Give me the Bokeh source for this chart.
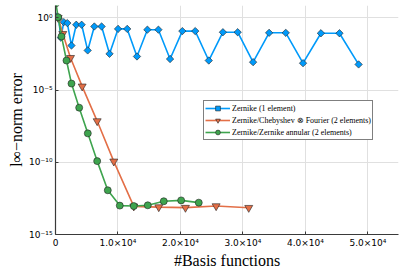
import numpy as np
from bokeh.plotting import figure
from bokeh.models import Range1d, FixedTicker, Legend, LegendItem
from bokeh.embed import file_html
from bokeh.resources import INLINE

# Zernike (1 element)
z1_n = [231, 496, 861, 1326, 1891, 2556, 3321, 4186, 5151, 6216, 7381, 8646, 10011, 11476,
        13041, 14706, 16471, 18336, 20301, 22366, 24531, 26796, 29161, 31626, 34191, 36856,
        39621, 42486, 45451, 48516]
z1_err = [1.26, 0.89, 0.042, 0.50, 0.43, 0.012, 0.33, 0.33, 0.0055, 0.25, 0.25, 0.0032,
          0.17, 0.17, 0.0021, 0.15, 0.15, 0.0014, 0.12, 0.12, 0.0011, 0.10, 0.10, 0.00085,
          0.091, 0.091, 0.00072, 0.085, 0.085, 0.00059]

# Zernike/Chebyshev (x) Fourier (2 elements)
zc_n = [430, 1170, 2400, 4270, 6670, 9330, 12530, 16530, 20800, 25710, 30930]
zc_err = [1.0, 0.078, 1.7e-3, 1.8e-5, 7.1e-8, 1.15e-10, 8.9e-14, 7.9e-14, 7.2e-14, 9.3e-14, 7.1e-14]

# Zernike/Zernike annular (2 elements)
za_n = [60, 430, 960, 1760, 2560, 3790, 5170, 6670, 8370, 10290, 12530, 14770, 17330, 20110, 22930]
za_err = [10.0, 1.1, 0.051, 1.1e-3, 2.8e-5, 6.0e-7, 1.0e-8, 1.2e-10, 1.15e-12, 1.0e-13, 9.3e-14,
          1.05e-13, 2.0e-13, 2.3e-13, 1.6e-13]

series_labels = ["Zernike (1 element)",
                 "Zernike/Chebyshev ⊗ Fourier (2 elements)",
                 "Zernike/Zernike annular (2 elements)"]

x_ticks = [0, 10000, 20000, 30000, 40000, 50000]
x_tick_labels = ["0", "1.0×10⁴", "2.0×10⁴", "3.0×10⁴", "4.0×10⁴", "5.0×10⁴"]
y_ticks = [1e0, 1e-5, 1e-10, 1e-15]
y_tick_labels = ["10⁰", "10⁻⁵", "10⁻¹⁰", "10⁻¹⁵"]

x_label = "#Basis functions"
y_label = "l∞−norm error"

p = figure(width=407, height=271, output_backend="svg", toolbar_location=None,
           x_range=Range1d(0, 54900), y_range=Range1d(1e-15, 10 ** 0.85),
           y_axis_type="log",
           min_border_left=55, min_border_right=9, min_border_top=5, min_border_bottom=37)
p.outline_line_color = None
p.background_fill_color = "white"
p.border_fill_color = "white"

p.xaxis.ticker = FixedTicker(ticks=x_ticks, minor_ticks=[])
p.xaxis.major_label_overrides = {t: l for t, l in zip(x_ticks, x_tick_labels)}
p.yaxis.ticker = FixedTicker(ticks=y_ticks, minor_ticks=[])
p.yaxis.major_label_overrides = {t: l for t, l in zip(y_ticks, y_tick_labels)}

for ax in (p.xaxis[0], p.yaxis[0]):
    ax.axis_line_color = "#3a3a3a"
    ax.axis_line_width = 1.2
    ax.major_tick_in = 3
    ax.major_tick_out = 0
    ax.major_tick_line_color = "#3a3a3a"
    ax.minor_tick_line_color = None
    ax.major_label_text_font = "DejaVu Sans"
    ax.major_label_text_font_size = "9px"
    ax.major_label_text_color = "black"
    ax.axis_label_text_font = "Liberation Serif"
    ax.axis_label_text_font_style = "normal"
    ax.axis_label_text_font_size = "16px"
    ax.axis_label_text_color = "black"
p.xaxis.axis_label = x_label
p.yaxis.axis_label = y_label
p.xaxis.major_label_standoff = 3
p.xaxis.axis_label_standoff = 1
p.yaxis.major_label_standoff = 3
p.yaxis.axis_label_standoff = 1

p.xgrid.grid_line_color = "#e0e0e0"
p.ygrid.grid_line_color = "#e0e0e0"
p.xgrid.grid_line_width = 1
p.ygrid.grid_line_width = 1

blue = "#009AFA"
orange = "#E36F47"
green = "#3EA44E"

r1l = p.line(z1_n, z1_err, line_color=blue, line_width=1.6)
r1s = p.scatter(z1_n, z1_err, marker="square", angle=np.pi / 4, size=5.2,
                fill_color=blue, line_color="#222222", line_width=0.6)
r2l = p.line(zc_n, zc_err, line_color=orange, line_width=1.6)
r2s = p.scatter(zc_n, zc_err, marker="inverted_triangle", size=8,
                fill_color=orange, line_color="#222222", line_width=0.6)
r3l = p.line(za_n, za_err, line_color=green, line_width=1.6)
r3s = p.scatter(za_n, za_err, marker="circle", size=7,
                fill_color=green, line_color="#222222", line_width=0.6)

legend = Legend(items=[LegendItem(label=series_labels[0], renderers=[r1l, r1s]),
                       LegendItem(label=series_labels[1], renderers=[r2l, r2s]),
                       LegendItem(label=series_labels[2], renderers=[r3l, r3s])],
                location=(148, 94))
legend.label_text_font = "Liberation Serif"
legend.label_text_font_size = "8px"
legend.label_text_color = "black"
legend.label_height = 9
legend.label_standoff = 2
legend.glyph_height = 12
legend.glyph_width = 25
legend.spacing = -2
legend.padding = 1
legend.margin = 0
legend.border_line_color = "black"
legend.border_line_width = 1
legend.background_fill_color = "white"
legend.background_fill_alpha = 1
p.add_layout(legend)

open("out.html", "w").write(file_html(p, INLINE))
